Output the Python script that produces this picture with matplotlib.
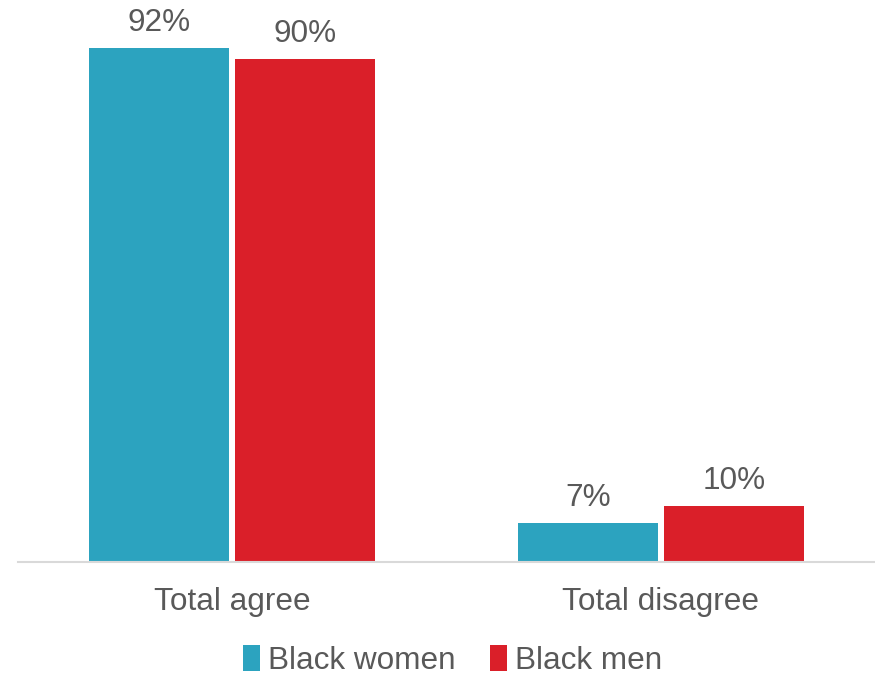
import matplotlib.pyplot as plt
import numpy as np

# values
categories = ["Total agree", "Total disagree"]
series_names = ["Black women", "Black men"]
women = [92, 7]
men = [90, 10]

TEAL = "#2CA3BF"
RED = "#DA1F29"
TEXT = "#595959"

plt.rcParams["font.family"] = ["Liberation Sans", "DejaVu Sans"]

fig = plt.figure(figsize=(8.75, 6.75), dpi=100)
ax = fig.add_axes([0.0206, 0.1674, 0.9794, 0.8282])

x = np.arange(len(categories))
width = 0.327
gap = 0.007

bars_w = ax.bar(x - width / 2 - gap, women, width, color=TEAL, label=series_names[0])
bars_m = ax.bar(x + width / 2 + gap, men, width, color=RED, label=series_names[1])

for bars, vals in [(bars_w, women), (bars_m, men)]:
    for b, v in zip(bars, vals):
        ax.annotate(f"{v}%", (b.get_x() + b.get_width() / 2, b.get_height()),
                    xytext=(0, 7), textcoords="offset points",
                    ha="center", va="bottom", fontsize=22.7, color=TEXT)

ax.set_xlim(-0.5, 1.5)
ax.set_ylim(0, 100)
ax.set_xticks(x)
ax.set_xticklabels(categories, fontsize=22.7, color=TEXT)
ax.tick_params(axis="x", length=0, pad=18)
ax.set_yticks([])

for side in ["top", "right", "left"]:
    ax.spines[side].set_visible(False)
ax.spines["bottom"].set_color("#D9D9D9")
ax.spines["bottom"].set_linewidth(1.5)

fig.legend(handles=[bars_w, bars_m], labels=series_names, loc="center",
           bbox_to_anchor=(0.517, 0.022), ncol=2, frameon=False,
           fontsize=22.7, labelcolor=TEXT, handlelength=0.55, handleheight=0.9,
           handletextpad=0.25, columnspacing=1.1, borderaxespad=0)

fig.savefig("out.png", dpi=100)
